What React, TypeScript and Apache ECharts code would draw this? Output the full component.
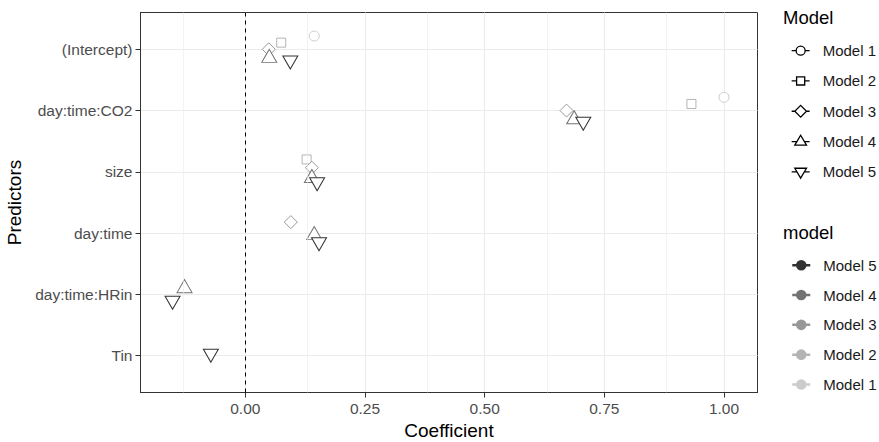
import React, { useEffect, useRef } from "react";
import * as echarts from "echarts";

// ---- data ----
const categories = ["(Intercept)", "day:time:CO2", "size", "day:time", "day:time:HRin", "Tin"];
const modelNames = ["Model 1", "Model 2", "Model 3", "Model 4", "Model 5"];
const model1 = [0.144, 1.0, null, null, null, null];
const model2 = [0.075, 0.932, 0.128, null, null, null];
const model3 = [0.049, 0.671, 0.139, 0.095, null, null];
const model4 = [0.05, 0.687, 0.139, 0.144, -0.127, null];
const model5 = [0.094, 0.706, 0.15, 0.154, -0.152, -0.072];
const xTicks = [0, 0.25, 0.5, 0.75, 1.0];
const xMinorTicks = [-0.125, 0.125, 0.375, 0.625, 0.875];

const modelValues: (number | null)[][] = [model1, model2, model3, model4, model5];
const greys = ["#CCCCCC", "#B4B4B4", "#989898", "#737373", "#333333"];
const symbols = ["circle", "rect", "diamond", "triangle", "triangle"];
const symbolSizes: any[] = [10, 9, 13, [15, 13], [15, 13]];
const symbolRotates = [0, 0, 0, 0, 180];
const dodgeWidth = 0.54;
const FONT = "'Liberation Sans', Arial, sans-serif";

const box = "M0,0 L0,0 M20,20 L20,20 ";
const shapeIcons = [
  "path://" + box + "M0,10 L5,10 M15,10 L20,10 M15,10 A5,5 0 1,1 5,10 A5,5 0 1,1 15,10 Z",
  "path://" + box + "M0,10 L5.5,10 M14.5,10 L20,10 M5.5,5.5 L14.5,5.5 L14.5,14.5 L5.5,14.5 Z",
  "path://" + box + "M0,10 L3.5,10 M16.5,10 L20,10 M10,3.5 L16.5,10 L10,16.5 L3.5,10 Z",
  "path://" + box + "M0,10 L5.86,10 M14.14,10 L20,10 M10,3 L16.5,14 L3.5,14 Z",
  "path://" + box + "M0,10 L5.86,10 M14.14,10 L20,10 M10,17 L16.5,6 L3.5,6 Z",
];
const dotIcon =
  "path://" + box + "M0,10 L20,10 M14.5,10 A4.5,4.5 0 1,1 5.5,10 A4.5,4.5 0 1,1 14.5,10 Z";

function buildSeriesData(): number[][][] {
  const out: number[][][] = modelValues.map(() => []);
  categories.forEach((_, c) => {
    const present = modelValues
      .map((vals, m) => (vals[c] == null ? -1 : m))
      .filter((m) => m >= 0);
    const n = present.length;
    present.forEach((m, j) => {
      const offset = (j - (n - 1) / 2) * (dodgeWidth / n);
      out[m].push([modelValues[m][c] as number, c + 1 + offset]);
    });
  });
  return out;
}

export default function App() {
  const ref = useRef<HTMLDivElement>(null);
  useEffect(() => {
    if (!ref.current) return;
    const chart = echarts.init(ref.current, null, { renderer: "svg" });
    const seriesData = buildSeriesData();
    const yTickVals = categories.map((_, i) => i + 1);

    const scatterSeries: any[] = modelNames.map((name, m) => ({
      type: "scatter",
      name,
      data: seriesData[m],
      symbol: symbols[m],
      symbolSize: symbolSizes[m],
      symbolRotate: symbolRotates[m],
      itemStyle: { color: "#ffffff", borderColor: greys[m], borderWidth: 1, opacity: 1 },
      emphasis: { disabled: true },
      z: 3,
    }));

    const legendText = {
      fontSize: 15,
      lineHeight: 18,
      color: "#1a1a1a",
      fontFamily: FONT,
      padding: [0, 0, 0, 8],
    };

    const option: any = {
      animation: false,
      textStyle: { fontFamily: FONT },
      grid: {
        left: 140.5,
        top: 12.5,
        right: 121.5,
        bottom: 49.5,
        containLabel: false,
        outerBoundsMode: "none",
        show: true,
        borderColor: "#333333",
        borderWidth: 1,
        backgroundColor: "transparent",
      },
      xAxis: {
        type: "value",
        min: -0.219,
        max: 1.07,
        name: "Coefficient",
        nameLocation: "middle",
        nameGap: 28,
        nameTextStyle: { fontSize: 19, color: "#000", fontFamily: FONT },
        axisLine: { show: true, onZero: false, lineStyle: { color: "#333333", width: 1 } },
        axisTick: { show: true, length: 5, customValues: xTicks, lineStyle: { color: "#333333" } },
        axisLabel: {
          customValues: xTicks,
          formatter: (v: number) => v.toFixed(2),
          fontSize: 15.5,
          color: "#4d4d4d",
          margin: 8,
          fontFamily: FONT,
        },
        splitLine: { show: true, lineStyle: { color: "#ebebeb", width: 1 } },
      },
      yAxis: {
        type: "value",
        min: 0.4,
        max: 6.6,
        inverse: true,
        name: "Predictors",
        nameLocation: "middle",
        nameRotate: 90,
        nameGap: 108,
        nameTextStyle: { fontSize: 19, color: "#000", fontFamily: FONT },
        axisLine: { show: true, onZero: false, lineStyle: { color: "#333333", width: 1 } },
        axisTick: { show: true, length: 5, customValues: yTickVals, lineStyle: { color: "#333333" } },
        axisLabel: {
          customValues: yTickVals,
          formatter: (v: number) => categories[Math.round(v) - 1] ?? "",
          fontSize: 15.5,
          color: "#4d4d4d",
          margin: 8,
          fontFamily: FONT,
        },
        splitLine: { show: true, lineStyle: { color: "#ebebeb", width: 1 } },
      },
      legend: [
        {
          orient: "vertical",
          left: 786,
          top: 36,
          itemWidth: 18,
          itemHeight: 18,
          itemGap: 11,
          selectedMode: false,
          textStyle: legendText,
          data: modelNames.map((name, m) => ({
            name,
            icon: shapeIcons[m],
            itemStyle: { color: "#ffffff", borderColor: "#000000", borderWidth: 1.3 },
          })),
        },
        {
          orient: "vertical",
          left: 786,
          top: 250,
          itemWidth: 18,
          itemHeight: 18,
          itemGap: 9.3,
          selectedMode: false,
          textStyle: legendText,
          data: modelNames
            .map((name, m) => ({
              name,
              icon: dotIcon,
              itemStyle: { color: greys[m], borderColor: greys[m], borderWidth: 2.5 },
            }))
            .reverse(),
        },
      ],
      graphic: [
        {
          type: "text",
          left: 783,
          top: 8,
          style: { text: "Model", fontSize: 18.5, fill: "#000", fontFamily: FONT },
        },
        {
          type: "text",
          left: 783,
          top: 223,
          style: { text: "model", fontSize: 18.5, fill: "#000", fontFamily: FONT },
        },
      ],
      series: [
        {
          type: "scatter",
          name: "minor-grid",
          data: [],
          z: 1,
          markLine: {
            silent: true,
            symbol: "none",
            label: { show: false },
            lineStyle: { color: "#ebebeb", width: 0.6, type: "solid" },
            data: xMinorTicks.map((v) => ({ xAxis: v })),
          },
        },
        {
          type: "scatter",
          name: "zero-line",
          data: [],
          z: 2,
          markLine: {
            silent: true,
            symbol: "none",
            label: { show: false },
            lineStyle: { color: "#000000", width: 1, type: [4, 4] },
            data: [{ xAxis: 0 }],
          },
        },
        ...scatterSeries,
      ],
    };
    chart.setOption(option);
    return () => chart.dispose();
  }, []);
  return (
    <div
      ref={ref}
      style={{ position: "absolute", left: 0, top: 0, width: 879, height: 442, background: "#fff" }}
    />
  );
}
